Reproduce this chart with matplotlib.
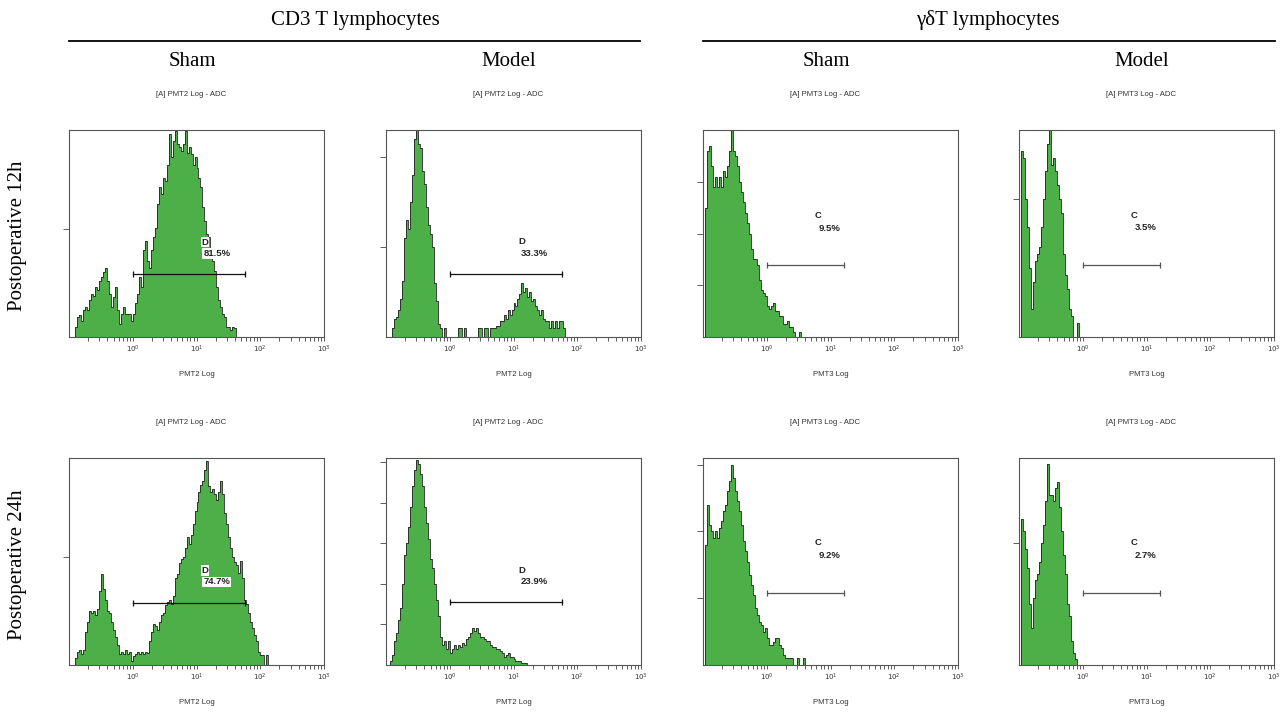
import numpy as np
import matplotlib.pyplot as plt
from matplotlib.ticker import FixedLocator, LogLocator, NullFormatter

# Flow cytometry histograms, 32 channels per decade, axis from 10^-1 to 10^3
# counts start at channel index given in *_start

# CD3, sham, 12h
cd3_sham_12h_start = 3
cd3_sham_12h = [9, 18, 20, 15, 25, 28, 25, 34, 40, 38,
                46, 43, 52, 55, 60, 64, 52, 40, 28, 37,
                46, 25, 12, 21, 28, 21, 21, 21, 15, 21,
                31, 40, 55, 46, 80, 89, 70, 64, 80, 92,
                101, 123, 138, 132, 147, 144, 159, 187, 166, 181,
                190, 178, 175, 172, 178, 190, 170, 175, 169, 159,
                166, 156, 147, 138, 120, 107, 95, 92, 77, 70,
                61, 46, 34, 28, 21, 18, 9, 9, 6, 9, 8]

# CD3, model, 12h
cd3_model_12h_start = 3
cd3_model_12h = [4, 8, 9, 12, 17, 25, 44, 52, 48, 60,
                 72, 88, 92, 86, 84, 74, 68, 58, 50, 46,
                 40, 24, 16, 6, 4, 0, 4, 0, 0, 0,
                 0, 0, 0, 4, 4, 0, 4, 0, 0, 0,
                 0, 0, 0, 4, 4, 0, 4, 4, 0, 4,
                 4, 4, 5, 5, 7, 7, 10, 8, 12, 10,
                 12, 15, 14, 17, 19, 24, 20, 22, 18, 20,
                 16, 17, 14, 12, 10, 12, 8, 7, 7, 4,
                 7, 4, 7, 4, 7, 7, 4]

# gamma-delta, sham, 12h
gd_sham_12h_start = 1
gd_sham_12h = [50, 72, 74, 66, 58, 62, 58, 62, 58, 64,
               62, 66, 72, 80, 72, 70, 66, 60, 56, 52,
               48, 44, 40, 34, 30, 30, 28, 22, 18, 17,
               16, 12, 11, 12, 13, 10, 10, 8, 8, 5,
               5, 6, 4, 4, 2, 0, 0, 2]

# gamma-delta, model, 12h
gd_model_12h_start = 1
gd_model_12h = [27, 26, 20, 16, 10, 4, 8, 11, 12, 13,
                16, 20, 24, 28, 30, 25, 26, 24, 22, 20,
                18, 12, 9, 7, 4, 3, 0, 0, 2]

# CD3, sham, 24h
cd3_sham_24h_start = 3
cd3_sham_24h = [6, 12, 14, 10, 14, 30, 40, 50, 48, 50,
                46, 52, 68, 84, 70, 60, 50, 48, 40, 32,
                26, 18, 10, 12, 10, 14, 10, 12, 4, 8,
                10, 12, 10, 12, 10, 12, 11, 22, 30, 38,
                36, 32, 40, 46, 48, 55, 58, 60, 56, 64,
                80, 84, 94, 98, 100, 108, 118, 112, 120, 130,
                142, 150, 160, 166, 170, 180, 188, 165, 160, 162,
                158, 152, 160, 170, 158, 140, 130, 118, 108, 100,
                95, 92, 85, 96, 80, 60, 56, 48, 40, 34,
                28, 22, 12, 9, 9, 0, 9]

# CD3, model, 24h
cd3_model_24h_start = 2
cd3_model_24h = [2, 5, 12, 16, 22, 28, 40, 54, 60, 68,
                 78, 88, 96, 101, 99, 94, 88, 78, 70, 62,
                 52, 48, 40, 32, 24, 14, 10, 12, 8, 12,
                 6, 8, 10, 8, 10, 9, 11, 10, 13, 14,
                 16, 18, 17, 18, 16, 14, 14, 13, 12, 12,
                 10, 9, 9, 8, 8, 7, 6, 4, 5, 6,
                 4, 4, 3, 2, 2, 2, 1, 1, 1]

# gamma-delta, sham, 24h
gd_sham_24h_start = 1
gd_sham_24h = [36, 48, 42, 40, 38, 40, 38, 41, 43, 46,
               48, 52, 55, 60, 56, 52, 49, 46, 42, 37,
               34, 31, 27, 24, 21, 17, 15, 13, 12, 10,
               11, 8, 6, 6, 7, 8, 8, 6, 5, 3,
               2, 2, 2, 2, 0, 0, 2, 0, 0, 2]

# gamma-delta, model, 24h
gd_model_24h_start = 1
gd_model_24h = [24, 22, 19, 16, 10, 6, 11, 14, 15, 17,
                20, 23, 27, 33, 28, 28, 27, 29, 30, 26,
                22, 18, 15, 10, 8, 4, 2, 1]

hists = [(cd3_sham_12h_start, cd3_sham_12h), (cd3_model_12h_start, cd3_model_12h),
         (gd_sham_12h_start, gd_sham_12h), (gd_model_12h_start, gd_model_12h),
         (cd3_sham_24h_start, cd3_sham_24h), (cd3_model_24h_start, cd3_model_24h),
         (gd_sham_24h_start, gd_sham_24h), (gd_model_24h_start, gd_model_24h)]

y_max = [191, 92, 80, 30, 191, 102, 62, 34]
y_ticks = [[100], [40, 80], [20, 40, 60], [20], [100], [20, 40, 60, 80, 100], [20, 40, 60], [20]]

channel = ['PMT2', 'PMT2', 'PMT3', 'PMT3', 'PMT2', 'PMT2', 'PMT3', 'PMT3']
gate_name = ['D', 'D', 'C', 'C', 'D', 'D', 'C', 'C']
gate_pct = ['81.5%', '33.3%', '9.5%', '3.5%', '74.7%', '23.9%', '9.2%', '2.7%']
gate_lo = [1.0, 1.0, 1.0, 1.0, 1.0, 1.0, 1.0, 1.0]
gate_hi = [58, 58, 16.3, 16.3, 58, 58, 16.3, 16.3]
gate_y = [58, 28, 27.7, 10.4, 57.6, 31, 21.7, 11.9]

col_titles = ['Sham', 'Model', 'Sham', 'Model']
group_titles = ['CD3 T lymphocytes', 'γδT lymphocytes']
row_titles = ['Postoperative 12h', 'Postoperative 24h']

W, H = 1280, 712
col_left = [69, 386, 703, 1019]
row_top = [130, 458]
ax_w, ax_h = 255, 207
green = '#4caf48'
sans = 'Liberation Sans'

fig = plt.figure(figsize=(12.8, 7.12), dpi=100)

for i, (start, counts) in enumerate(hists):
    r, c = divmod(i, 4)
    ax = fig.add_axes([col_left[c] / W, 1 - (row_top[r] + ax_h) / H, ax_w / W, ax_h / H])
    edges = 10 ** (-1 + (start + np.arange(len(counts) + 1)) / 32)
    ax.stairs(counts, edges, fill=True, color=green, baseline=0)
    ax.stairs(counts, edges, color='#222222', lw=0.6, baseline=0)

    ax.set_xscale('log')
    ax.set_xlim(0.1, 1000)
    ax.set_ylim(0, y_max[i])
    ax.xaxis.set_major_locator(FixedLocator([1, 10, 100, 1000]))
    ax.set_xticklabels([r'$10^0$', r'$10^1$', r'$10^2$', r'$10^3$'])
    ax.xaxis.set_minor_locator(LogLocator(base=10, subs=np.arange(2, 10)))
    ax.xaxis.set_minor_formatter(NullFormatter())
    ax.set_yticks(y_ticks[i])
    ax.set_yticklabels([])
    ax.tick_params(axis='x', which='both', direction='out', length=3, width=0.6,
                   labelsize=5, pad=1.5, color='#444444', labelcolor='#333333')
    ax.tick_params(axis='y', direction='out', length=4, width=0.6, color='#444444')
    for sp in ax.spines.values():
        sp.set_color('#555555')
        sp.set_linewidth(0.8)

    ax.text(0.48, 1.17, '[A] ' + channel[i] + ' Log - ADC', transform=ax.transAxes,
            ha='center', va='center', fontsize=5.6, family=sans, color='#333333')
    ax.text(0.5, -0.18, channel[i] + ' Log', transform=ax.transAxes,
            ha='center', va='center', fontsize=5.6, family=sans, color='#333333')

    # gate marker
    gcol = '#111111' if gate_name[i] == 'D' else '#555555'
    ax.plot([gate_lo[i], gate_hi[i]], [gate_y[i], gate_y[i]], color=gcol, lw=0.9)
    ax.plot([gate_lo[i], gate_hi[i]], [gate_y[i], gate_y[i]], ls='none', marker='|',
            markersize=4, color=gcol, mew=0.9)
    box = dict(facecolor='white', edgecolor='none', pad=0.6) if i in (0, 4) else None
    if gate_name[i] == 'D':
        xl, xp = 12.0, 12.8
        yl = gate_y[i] + 0.155 * y_max[i]
        yp = gate_y[i] + 0.10 * y_max[i]
    else:
        xl, xp = 5.6, 6.5
        yl = gate_y[i] + 0.24 * y_max[i]
        yp = gate_y[i] + 0.18 * y_max[i]
    ax.text(xl, yl, gate_name[i], fontsize=6.8, fontweight='bold', family=sans,
            color='#222222', va='center', ha='left', bbox=box)
    ax.text(xp, yp, gate_pct[i], fontsize=6.8, fontweight='bold', family=sans,
            color='#222222', va='center', ha='left', bbox=box)

serif = 'Liberation Serif'
for t, x in zip(group_titles, [355, 988]):
    fig.text(x / W, 1 - 20 / H, t, ha='center', va='center', fontsize=15, family=serif)
for x0, x1 in [(69, 640), (703, 1275)]:
    fig.add_artist(plt.Line2D([x0 / W, x1 / W], [1 - 41 / H, 1 - 41 / H], color='black', lw=1.3))
for t, x in zip(col_titles, [192, 509, 826, 1142]):
    fig.text(x / W, 1 - 61 / H, t, ha='center', va='center', fontsize=15, family=serif)
for t, y in zip(row_titles, [236, 565]):
    fig.text(18 / W, 1 - y / H, t, ha='center', va='center', rotation=90, fontsize=15, family=serif)

fig.savefig('out.png', dpi=100)
